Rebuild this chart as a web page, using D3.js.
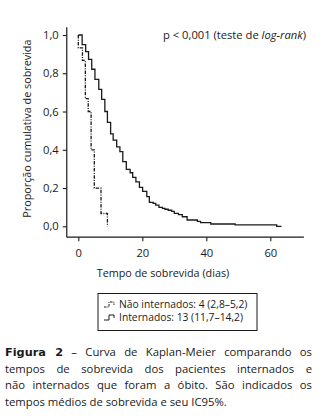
<!DOCTYPE html>
<html>
<head>
<meta charset="utf-8">
<script src="https://cdn.jsdelivr.net/npm/d3@7"></script>
<style>
  html, body { margin: 0; padding: 0; background: #fff; }
  #wrap { position: relative; width: 326px; height: 418px; overflow: hidden; }
  svg { position: absolute; left: 0; top: 0; }
  #caption {
    position: absolute; left: 5px; top: 344px; width: 307px;
    font-family: "Open Sans", "DejaVu Sans", sans-serif; font-size: 11.3px; line-height: 16.2px;
    color: #1a1a1a;
  }
  #caption div { white-space: nowrap; text-align: justify; text-align-last: justify; }
  #caption div.last { text-align-last: left; }
  #caption b { font-family: "DejaVu Sans", sans-serif; font-weight: 900; }
</style>
</head>
<body>
<div id="wrap">
<svg id="chart" width="326" height="418"></svg>
<div id="caption"></div>
</div>
<script>
// ---- data ----
const xTicks = [0, 20, 40, 60];
const yTicks = [0, 0.2, 0.4, 0.6, 0.8, 1.0];
const yTickLabels = ["0,0", "0,2", "0,4", "0,6", "0,8", "1,0"];

// Não internados (dashed): [time (dias), survival after step]
const naoInternadosTime = [0, 0, 1.3, 2.2, 3.1, 4.0, 5.0, 7.1, 9.1];
const naoInternadosSurv = [1.0, 0.933, 0.867, 0.667, 0.6, 0.4, 0.2, 0.067, 0.0];

// Internados (solid)
const internadosTime = [0, 1.2, 2.3, 3.2, 4.2, 5.2, 6.4, 7.3, 8.3, 9.1, 10.1, 10.9, 12.0, 13.0, 13.9, 15.0,
  16.2, 17.0, 18.0, 19.1, 20.1, 21.4, 22.2, 23.4, 24.2, 25.2, 26.3, 27.1, 28.1, 29.2, 30.0, 31.3, 32.5,
  34.0, 37.2, 38.2, 41.4, 49.0, 62.0, 63.5];
const internadosSurv = [1.0, 0.95, 0.913, 0.873, 0.821, 0.768, 0.716, 0.664, 0.6, 0.543, 0.483, 0.45, 0.415, 0.39, 0.338, 0.298,
  0.28, 0.256, 0.232, 0.204, 0.183, 0.155, 0.125, 0.12, 0.111, 0.099, 0.094, 0.089, 0.084, 0.078, 0.068, 0.061, 0.05,
  0.033, 0.026, 0.019, 0.012, 0.007, 0.0, 0.0];

const legendLabels = ["Não internados: 4 (2,8–5,2)", "Internados: 13 (11,7–14,2)"];

const captionBold = "Figura 2";
const captionLines = [
  " – Curva de Kaplan-Meier comparando os",
  "tempos de sobrevida dos pacientes internados e",
  "não internados que foram a óbito. São indicados os",
  "tempos médios de sobrevida e seu IC95%."
];

// ---- drawing ----
const svg = d3.select("#chart");
const FONT = '"Open Sans", "DejaVu Sans", sans-serif';
const ink = "#1a1a1a";

const x = d3.scaleLinear().domain([0, 60]).range([78.3, 270.3]);
const y = d3.scaleLinear().domain([0, 1]).range([226.3, 35]);
const xExt = [-3.6, 70.5];
const yExt = [-0.057, 1.04];

// axis lines
svg.append("line").attr("x1", x(xExt[0])).attr("x2", x(xExt[0]))
  .attr("y1", y(yExt[0])).attr("y2", y(yExt[1])).attr("stroke", ink).attr("stroke-width", 1.2);
svg.append("line").attr("x1", x(xExt[0])).attr("x2", x(xExt[1]))
  .attr("y1", y(yExt[0])).attr("y2", y(yExt[0])).attr("stroke", ink).attr("stroke-width", 1.2);

const yAxis = d3.axisLeft(y).tickValues(yTicks).tickSize(4).tickSizeOuter(0)
  .tickFormat((d, i) => yTickLabels[i]);
const gy = svg.append("g").attr("transform", `translate(${x(xExt[0])},0)`).call(yAxis);
gy.select(".domain").remove();
gy.selectAll("line").attr("stroke", ink).attr("stroke-width", 1.1);
gy.selectAll("text").attr("font-family", FONT).attr("font-size", 11.2).attr("fill", ink).attr("x", -8);

const xAxis = d3.axisBottom(x).tickValues(xTicks).tickSize(4).tickSizeOuter(0);
const gx = svg.append("g").attr("transform", `translate(0,${y(yExt[0])})`).call(xAxis);
gx.select(".domain").remove();
gx.selectAll("line").attr("stroke", ink).attr("stroke-width", 1.1);
gx.selectAll("text").attr("font-family", FONT).attr("font-size", 11.2).attr("fill", ink).attr("y", 12);

// axis titles
svg.append("text").attr("transform", `translate(31,${(y(1) + y(0)) / 2 - 2}) rotate(-90)`)
  .attr("text-anchor", "middle").attr("font-family", FONT).attr("font-size", 10.8).attr("fill", ink)
  .text("Proporção cumulativa de sobrevida");
svg.append("text").attr("x", 163).attr("y", 277).attr("text-anchor", "middle")
  .attr("font-family", FONT).attr("font-size", 10.8).attr("fill", ink)
  .text("Tempo de sobrevida (dias)");

// p-value
const pt = svg.append("text").attr("x", 306).attr("y", 39).attr("text-anchor", "end")
  .attr("font-family", FONT).attr("font-size", 11.2).attr("fill", ink);
pt.append("tspan").text("p < 0,001 (teste de ");
pt.append("tspan").attr("font-style", "italic").text("log-rank");
pt.append("tspan").text(")");

// curves
const line = d3.line().x(d => x(d[0])).y(d => y(d[1])).curve(d3.curveStepAfter);
const naoData = naoInternadosTime.map((t, i) => [t, naoInternadosSurv[i]]);
const intData = internadosTime.map((t, i) => [t, internadosSurv[i]]);
svg.append("path").attr("d", line(intData)).attr("fill", "none")
  .attr("stroke", ink).attr("stroke-width", 1.3);
svg.append("path").attr("d", line(naoData)).attr("fill", "none")
  .attr("stroke", ink).attr("stroke-width", 1.3).attr("stroke-dasharray", "3.5,1.3,1,1.3");

// legend
const lg = svg.append("g");
lg.append("rect").attr("x", 98).attr("y", 293.5).attr("width", 159).attr("height", 37)
  .attr("fill", "none").attr("stroke", ink).attr("stroke-width", 1);
const legendDash = ["2.5,1,1,1", null];
legendLabels.forEach((lab, i) => {
  const by = 305 + i * 13;
  const sym = `M104,${by + 2} H109 V${by - 3} H114 V${by}`;
  lg.append("path").attr("d", sym).attr("fill", "none").attr("stroke", ink).attr("stroke-width", 1)
    .attr("stroke-dasharray", legendDash[i]);
  lg.append("text").attr("x", 119).attr("y", by + 3).attr("font-family", FONT).attr("font-size", 10.3)
    .attr("fill", ink).text(lab);
});

// caption (forced line breaks, justified)
const cap = d3.select("#caption");
captionLines.forEach((t, i) => {
  const d = cap.append("div").classed("last", i === captionLines.length - 1);
  if (i === 0) { d.append("b").text(captionBold); }
  d.append("span").text(t);
});
</script>
</body>
</html>
